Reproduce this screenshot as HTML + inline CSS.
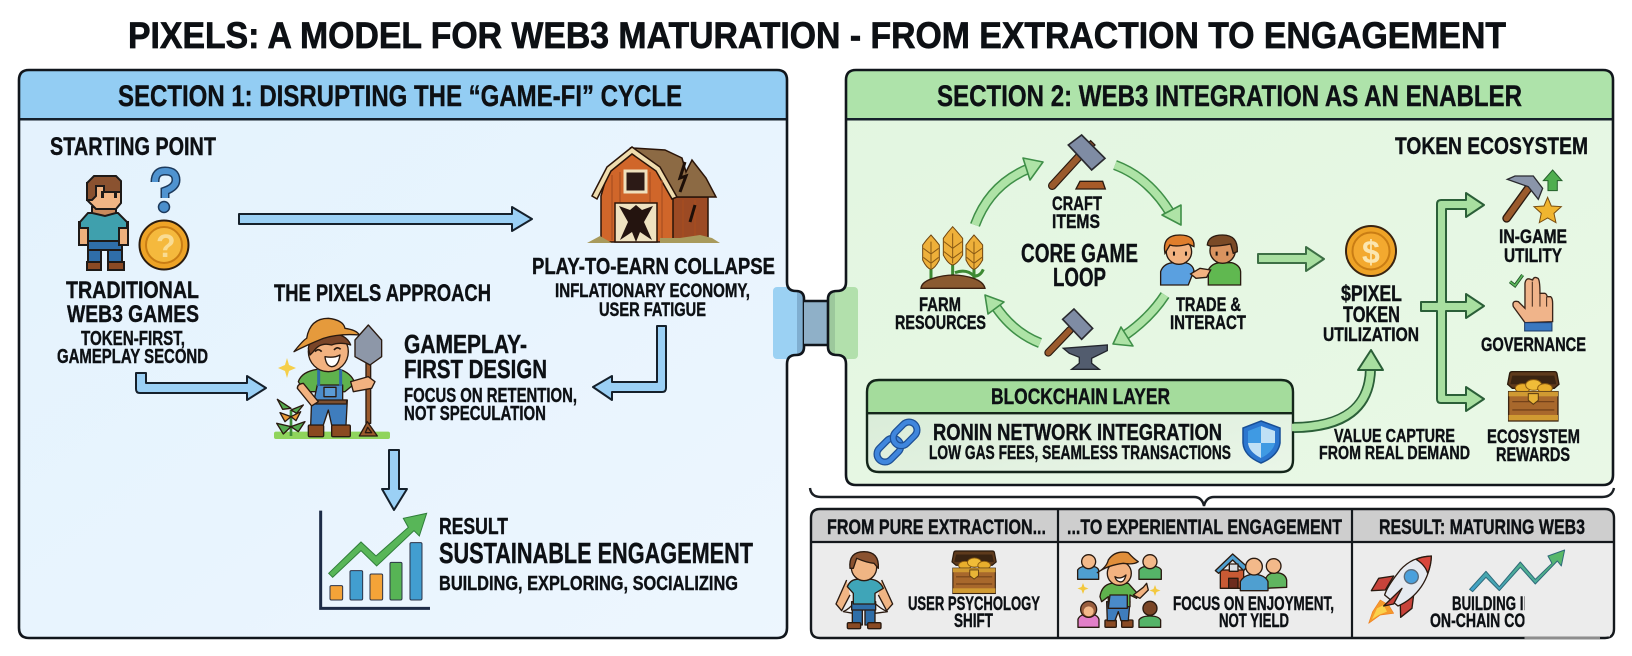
<!DOCTYPE html>
<html><head><meta charset="utf-8"><style>
html,body{margin:0;padding:0;background:#fff;width:1632px;height:656px;overflow:hidden}
svg{display:block}
text{font-family:"Liberation Sans",sans-serif;font-weight:700;fill:#0d1014;stroke:#0d1014;stroke-width:.4px;text-anchor:start}
</style></head><body>
<svg width="1632" height="656" viewBox="0 0 1632 656" xmlns="http://www.w3.org/2000/svg">
<defs>
<clipPath id="p1"><path d="M29,70H777Q787,70 787,80V282Q787,291 796,291Q804,291 804,299V347Q804,355 796,355Q787,355 787,364V628Q787,638 777,638H29Q19,638 19,628V80Q19,70 29,70Z"/></clipPath>
<clipPath id="p2"><path d="M856,70H1603Q1613,70 1613,80V475Q1613,485 1603,485H856Q846,485 846,475V364Q846,355 837,355Q828,355 828,347V299Q828,291 837,291Q846,291 846,282V80Q846,70 856,70Z"/></clipPath>
<linearGradient id="b1" x1="0" y1="0" x2="1" y2="1"><stop offset="0" stop-color="#e3f2fd"/><stop offset="1" stop-color="#edf6fe"/></linearGradient>
<linearGradient id="g1" x1="0" y1="0" x2="1" y2="1"><stop offset="0" stop-color="#e2f6e0"/><stop offset="1" stop-color="#e9f8e6"/></linearGradient>
<linearGradient id="g2" x1="0" y1="0" x2="1" y2="1"><stop offset="0" stop-color="#d6ead5"/><stop offset="1" stop-color="#eaf6e8"/></linearGradient>
<linearGradient id="zig" x1="0" y1="1" x2="1" y2="0"><stop offset="0" stop-color="#3f9fd0"/><stop offset="1" stop-color="#5cbb5c"/></linearGradient>
<g id="chest">
 <path d="M0,38L6,6Q7,0 14,0H140Q147,0 148,6L154,38L140,50H14Z" fill="#5e3a1c" stroke="#2a1a0c" stroke-width="4"/>
 <path d="M14,12H140L146,38H8Z" fill="#3a2412"/>
 <ellipse cx="45" cy="50" rx="22" ry="14" fill="#e8ae2c" stroke="#8a5a10" stroke-width="3"/>
 <ellipse cx="78" cy="40" rx="24" ry="16" fill="#f0bc38" stroke="#8a5a10" stroke-width="3"/>
 <ellipse cx="112" cy="50" rx="22" ry="14" fill="#e8ae2c" stroke="#8a5a10" stroke-width="3"/>
 <rect x="3" y="60" width="148" height="88" fill="#a8682c" stroke="#3a2412" stroke-width="4"/>
 <rect x="3" y="60" width="148" height="14" fill="#d09a32"/>
 <path d="M14,90H140M14,115H140" stroke="#74421a" stroke-width="4"/>
 <rect x="3" y="130" width="148" height="16" fill="#d09a32"/>
 <path d="M62,66H92V86L77,98L62,86Z" fill="#e8b436" stroke="#5a3a10" stroke-width="3"/>
</g>
</defs>
<rect width="1632" height="656" fill="#fff"/>

<text x="128" y="48" font-size="37.5" textLength="1378" lengthAdjust="spacingAndGlyphs" style="stroke-width:.7px">PIXELS: A MODEL FOR WEB3 MATURATION - FROM EXTRACTION TO ENGAGEMENT</text>

<!-- PANEL 1 -->
<g clip-path="url(#p1)">
 <rect x="15" y="65" width="795" height="580" fill="url(#b1)"/>
 <rect x="15" y="65" width="795" height="54" fill="#93cdf3"/>
 <rect x="773" y="287" width="30" height="72" rx="4" fill="#9bd1f3"/>
 <rect x="797" y="287" width="9" height="72" fill="#7faed0"/>
</g>
<rect x="19" y="118" width="768" height="2.5" fill="#15202b"/>
<path d="M29,70H777Q787,70 787,80V282Q787,291 796,291Q804,291 804,299V347Q804,355 796,355Q787,355 787,364V628Q787,638 777,638H29Q19,638 19,628V80Q19,70 29,70Z" fill="none" stroke="#11161c" stroke-width="2.6"/>

<!-- connector -->
<rect x="804" y="301" width="24" height="44" fill="#8fb0c8"/>
<path d="M804,301H828M804,345H828" stroke="#11161c" stroke-width="2.4"/>

<!-- PANEL 2 -->
<g clip-path="url(#p2)">
 <rect x="820" y="65" width="800" height="425" fill="url(#g1)"/>
 <rect x="820" y="65" width="800" height="54" fill="#aee3aa"/>
 <rect x="830" y="287" width="28" height="72" rx="4" fill="#b2e0ac"/>
 <rect x="826" y="287" width="9" height="72" fill="#9cc89c"/>
</g>
<rect x="846" y="118" width="767" height="2.5" fill="#15202b"/>
<path d="M856,70H1603Q1613,70 1613,80V475Q1613,485 1603,485H856Q846,485 846,475V364Q846,355 837,355Q828,355 828,347V299Q828,291 837,291Q846,291 846,282V80Q846,70 856,70Z" fill="none" stroke="#11161c" stroke-width="2.6"/>

<text x="118" y="106" font-size="30" textLength="564" lengthAdjust="spacingAndGlyphs">SECTION 1: DISRUPTING THE “GAME-FI” CYCLE</text>
<text x="937" y="106" font-size="30" textLength="585" lengthAdjust="spacingAndGlyphs">SECTION 2: WEB3 INTEGRATION AS AN ENABLER</text>

<!-- Section 1 text -->
<text x="50" y="155" font-size="25" textLength="166" lengthAdjust="spacingAndGlyphs">STARTING POINT</text>
<text x="66" y="298" font-size="24" textLength="133" lengthAdjust="spacingAndGlyphs">TRADITIONAL</text>
<text x="67" y="322" font-size="24" textLength="132" lengthAdjust="spacingAndGlyphs">WEB3 GAMES</text>
<text x="81" y="345" font-size="20" textLength="104" lengthAdjust="spacingAndGlyphs">TOKEN-FIRST,</text>
<text x="57" y="363" font-size="20" textLength="151" lengthAdjust="spacingAndGlyphs">GAMEPLAY SECOND</text>
<text x="274" y="301" font-size="24.5" textLength="217" lengthAdjust="spacingAndGlyphs">THE PIXELS APPROACH</text>
<text x="532" y="274" font-size="23" textLength="243" lengthAdjust="spacingAndGlyphs">PLAY-TO-EARN COLLAPSE</text>
<text x="555" y="297" font-size="19" textLength="195" lengthAdjust="spacingAndGlyphs">INFLATIONARY ECONOMY,</text>
<text x="599" y="316" font-size="19" textLength="107" lengthAdjust="spacingAndGlyphs">USER FATIGUE</text>
<text x="404" y="353" font-size="26" textLength="123" lengthAdjust="spacingAndGlyphs">GAMEPLAY-</text>
<text x="404" y="378" font-size="26" textLength="143" lengthAdjust="spacingAndGlyphs">FIRST DESIGN</text>
<text x="404" y="402" font-size="20" textLength="173" lengthAdjust="spacingAndGlyphs">FOCUS ON RETENTION,</text>
<text x="404" y="420" font-size="20" textLength="142" lengthAdjust="spacingAndGlyphs">NOT SPECULATION</text>
<text x="439" y="534" font-size="23" textLength="69" lengthAdjust="spacingAndGlyphs">RESULT</text>
<text x="439" y="563" font-size="29" textLength="314" lengthAdjust="spacingAndGlyphs">SUSTAINABLE ENGAGEMENT</text>
<text x="439" y="590" font-size="20" textLength="299" lengthAdjust="spacingAndGlyphs">BUILDING, EXPLORING, SOCIALIZING</text>

<!-- Section 1 arrows -->
<g fill="#9bd0f5" stroke="#15202b" stroke-width="2" stroke-linejoin="round">
 <path d="M239,214H512V207L532,219L512,231V224H239Z"/>
 <path d="M136,373H146V383H247V376L266,388L247,400V393H140Q136,393 136,389Z"/>
 <path d="M657,326H666V388Q666,392 662,392H612V400L593,387L612,376V382H657Z"/>
 <path d="M389,450H399V489H407L394,510L382,489H389Z"/>
</g>

<!-- starting point icons -->
<g stroke="#1e1a18" stroke-width="2">
 <rect x="88" y="248" width="13" height="16" fill="#2f6ea8"/><rect x="108" y="248" width="14" height="16" fill="#2f6ea8"/>
 <rect x="88" y="240" width="34" height="10" fill="#2f6ea8"/>
 <rect x="87" y="262" width="14" height="8" fill="#8a4a24"/><rect x="108" y="262" width="16" height="8" fill="#8a4a24"/>
 <rect x="79" y="222" width="9" height="23" fill="#eeb07c"/><rect x="119" y="222" width="9" height="23" fill="#eeb07c"/>
 <path d="M88,213H118L127,222V228H119V241H88V228H80V222Z" fill="#3fa0ad"/>
 <path d="M92,207H116V213L105,216L92,213Z" fill="#c98a5c"/>
 <path d="M87,183H121V203L116,209H96L87,200Z" fill="#f0b584"/>
 <path d="M87,200V183L94,176H116L121,181V192H104V186H96V196L92,200Z" fill="#8a5230"/>
</g>
<rect x="101" y="191" width="3" height="7" fill="#1e1a18"/><rect x="114" y="191" width="3" height="7" fill="#1e1a18"/>
<path d="M155,182Q155,171 165,171Q176,171 176,180Q176,187 165,191V198" fill="none" stroke="#1d3a5c" stroke-width="9"/>
<circle cx="164" cy="207" r="5.5" fill="#4b8fcc" stroke="#1d3a5c" stroke-width="1.5"/>
<path d="M155,182Q155,171 165,171Q176,171 176,180Q176,187 165,191V198" fill="none" stroke="#4f93d0" stroke-width="6"/>
<circle cx="164" cy="245" r="24.5" fill="#eea326" stroke="#2a1c10" stroke-width="2"/>
<circle cx="164" cy="245" r="18" fill="#f5b93d" stroke="#c97d14" stroke-width="2"/>
<text x="156" y="257" font-size="32" style="fill:#f9dc93;stroke:none">?</text>

<!-- barn -->
<g stroke="#2a1408" stroke-width="1.5">
 <rect x="672" y="197" width="36" height="45" fill="#9c4a24"/>
 <path d="M632,148L665,150L682,158L686,172L692,160L706,178L716,197H676L659,167Z" fill="#8c6a44"/>
 <path d="M601,196L609,168L632,151L656,168L673,196V242H601Z" fill="#d0662a"/>
 <path d="M592,196L607,167L632,147L660,167L677,197L672,199L656,171L632,154L611,171L597,199Z" fill="#efdcae"/>
 <rect x="625" y="171" width="21" height="21" fill="#2c1a16" stroke="#efe0bc" stroke-width="3"/>
 <rect x="615" y="203" width="42" height="39" fill="#efe2c0"/>
 <path d="M619,206L630,210L636,205L642,210L653,206L644,222L652,240L640,232L636,242L632,232L620,240L628,222Z" fill="#24140f" stroke="none"/>
</g>
<path d="M612,175V240M620,172V202M650,172V202M662,180V240M683,200V240M695,200V240" stroke="#a84e20" stroke-width="1.2"/>
<path d="M685,162L680,178L686,176L680,192M695,205L690,222" fill="none" stroke="#1d0f08" stroke-width="3"/>
<path d="M587,243H720L712,238L700,235L680,238H660V243ZM587,243L600,236L612,243Z" fill="#a89a5c"/>

<!-- farmer -->
<g transform="translate(260 310) scale(.3333)" stroke="#2a1a10" stroke-width="4" stroke-linejoin="round">
 <rect x="42" y="365" width="348" height="22" rx="6" fill="#8fd45c" stroke="none"/>
 <path d="M93,378V300" stroke="#3e8a3a" stroke-width="8" fill="none"/>
 <path d="M93,350L50,340L70,372ZM93,350L135,335L115,365Z" fill="#54a94e"/>
 <path d="M93,320L60,308L75,335ZM93,320L122,305L108,332Z" fill="#e99a38"/>
 <path d="M93,295L52,268L68,298ZM93,300L130,285L110,310Z" fill="#54a94e"/>
 <rect x="318" y="160" width="14" height="180" fill="#9a5a2c"/>
 <path d="M298,378L322,335L352,378ZM316,368L323,352L335,368Z" fill="#9a5a2c"/>
 <path d="M285,140V90L325,45L365,90V140L330,165Z" fill="#8d97a8"/>
 <rect x="145" y="345" width="46" height="35" rx="4" fill="#8a4a20"/><rect x="215" y="345" width="56" height="35" rx="4" fill="#8a4a20"/>
 <path d="M155,270H262L258,345H215L205,300L190,345H152Z" fill="#3f7dbd"/>
 <path d="M115,215Q125,185 172,178L240,178Q275,190 285,220L255,245H150L130,240Z" fill="#5fb24d"/>
 <path d="M172,225H248V280H160Z" fill="#4a8bc9"/>
 <path d="M176,178V228M242,178V228" stroke-width="9" stroke="#2e6ca8"/>
 <rect x="192" y="232" width="36" height="28" fill="#5b9bd5"/>
 <rect x="158" y="270" width="102" height="12" fill="#7a4f30"/>
 <path d="M112,235Q112,222 130,220L175,275L155,288Z" fill="#f2b280"/>
 <path d="M272,215L325,200L345,215L335,235L280,245Z" fill="#f2b280"/>
 <circle cx="205" cy="125" r="60" fill="#f2b280"/>
 <path d="M145,115Q150,70 210,70Q260,72 272,105Q240,95 215,105Q180,95 160,125L150,135Z" fill="#7a4528"/>
 <path d="M102,125Q130,90 140,85Q150,25 205,25Q250,30 255,55Q290,60 298,75Q240,70 190,85Q140,105 102,125Z" fill="#e59a3c"/>
 <path d="M195,140Q222,145 240,135Q235,170 215,170Q198,168 195,140Z" fill="#fff"/>
 <path d="M165,125Q175,113 185,125M222,120Q232,108 242,118" fill="none" stroke-width="5"/>
</g>
<path d="M287,358L289,365L296,368L289,371L287,378L285,371L278,368L285,365Z" fill="#f5cf4a"/>

<!-- chart -->
<g transform="translate(290 420) scale(.3333)">
 <path d="M92,272V565H420" fill="none" stroke="#1d2b47" stroke-width="9"/>
 <g stroke="#2c3348" stroke-width="3">
  <rect x="120" y="497" width="38" height="43" rx="4" fill="#f4a338"/>
  <rect x="180" y="452" width="38" height="88" rx="4" fill="#429ed0"/>
  <rect x="240" y="462" width="38" height="78" rx="4" fill="#f4a338"/>
  <rect x="300" y="427" width="36" height="113" rx="4" fill="#57b455"/>
  <rect x="360" y="368" width="36" height="172" rx="4" fill="#429ed0"/>
 </g>
 <path d="M116,460L213,366L258,408L355,322L340,295L410,280L388,348L372,332L260,438L213,392L128,472Z" fill="#58b658" stroke="#2f7d3a" stroke-width="3"/>
</g>

<!-- CORE LOOP text -->
<text x="1052" y="210" font-size="19" textLength="50" lengthAdjust="spacingAndGlyphs">CRAFT</text>
<text x="1052" y="228" font-size="19" textLength="48" lengthAdjust="spacingAndGlyphs">ITEMS</text>
<text x="1021" y="262" font-size="26" textLength="117" lengthAdjust="spacingAndGlyphs">CORE GAME</text>
<text x="1053" y="286" font-size="26" textLength="53" lengthAdjust="spacingAndGlyphs">LOOP</text>
<text x="919" y="311" font-size="19" textLength="42" lengthAdjust="spacingAndGlyphs">FARM</text>
<text x="895" y="329" font-size="19" textLength="91" lengthAdjust="spacingAndGlyphs">RESOURCES</text>
<text x="1176" y="311" font-size="19" textLength="65" lengthAdjust="spacingAndGlyphs">TRADE &amp;</text>
<text x="1170" y="329" font-size="19" textLength="76" lengthAdjust="spacingAndGlyphs">INTERACT</text>

<!-- loop arrows -->
<g fill="none" stroke-linecap="butt">
 <path d="M975,225Q990,184 1030,168" stroke="#3f8f48" stroke-width="10.5"/><path d="M975,225Q990,184 1030,168" stroke="#aee3a6" stroke-width="7.5"/>
 <path d="M1115,165Q1150,178 1172,216" stroke="#3f8f48" stroke-width="10.5"/><path d="M1115,165Q1150,178 1172,216" stroke="#aee3a6" stroke-width="7.5"/>
 <path d="M1165,295Q1150,318 1124,336" stroke="#3f8f48" stroke-width="10.5"/><path d="M1165,295Q1150,318 1124,336" stroke="#aee3a6" stroke-width="7.5"/>
 <path d="M1040,343Q1012,332 994,304" stroke="#3f8f48" stroke-width="10.5"/><path d="M1040,343Q1012,332 994,304" stroke="#aee3a6" stroke-width="7.5"/>
</g>
<g fill="#aee3a6" stroke="#3f8f48" stroke-width="1.6" stroke-linejoin="round">
 <path d="M1043,162L1023,158L1030,180Z"/>
 <path d="M1181,225L1181,205L1162,215Z"/>
 <path d="M1113,344L1121,327L1133,346Z"/>
 <path d="M985,295L1004,302L988,314Z"/>
</g>

<!-- loop icons -->
<g transform="translate(820 120) scale(.3333)">
 <path d="M697,197L775,112" stroke="#2a1a10" stroke-width="26" stroke-linecap="round"/>
 <path d="M697,197L775,112" stroke="#9a5a2c" stroke-width="19" stroke-linecap="round"/>
 <path d="M812,62L825,75L812,88L800,74Z" fill="#9a5a2c" stroke="#2a1a10" stroke-width="4"/>
 <path d="M745,75L785,45L855,115L815,150Z" fill="#7f8ca4" stroke="#2a2a30" stroke-width="5"/>
 <path d="M768,207H856L848,184H780Z" fill="#a85a28" stroke="#2a1a10" stroke-width="4"/>
 <path d="M685,698L750,630" stroke="#2a1a10" stroke-width="24" stroke-linecap="round"/>
 <path d="M685,698L750,630" stroke="#9a5a2c" stroke-width="17" stroke-linecap="round"/>
 <path d="M728,598L762,567L818,625L785,658Z" fill="#7f8ca4" stroke="#2a2a30" stroke-width="5"/>
 <path d="M730,685L862,675V692L815,715V730L838,748H755L778,730V712L748,700Z" fill="#525c6e" stroke="#23262e" stroke-width="4"/>

 <!-- wheat -->
 <g stroke="#3d8a33" stroke-width="9" fill="none"><path d="M333,480V440M398,480V420M462,480V440M405,458Q440,445 462,468Q480,470 490,448"/></g>
 <g fill="#eeb03a" stroke="#6f4510" stroke-width="3">
  <path d="M333,345Q345,358 358,375V420Q345,445 333,448Q320,445 308,420V375Q320,358 333,345Z"/>
  <path d="M398,320Q412,335 428,355V405Q412,432 398,435Q384,432 370,405V355Q384,335 398,320Z"/>
  <path d="M462,345Q474,358 488,375V420Q474,445 462,448Q450,445 438,420V375Q450,358 462,345Z"/>
 </g>
 <path d="M310,385L333,402L356,385M310,412L333,430L356,412M372,365L398,385L426,365M372,395L398,415L426,395M440,385L462,402L486,385M440,412L462,430L486,412M333,365V445M398,340V430M462,365V445" fill="none" stroke="#8a5a14" stroke-width="3"/>
 <path d="M303,505Q305,485 340,475Q400,455 460,475Q490,485 495,505Z" fill="#8a5a30" stroke="#3a2010" stroke-width="4"/>

 <!-- people -->
 <g stroke="#2a1a10" stroke-width="4">
  <path d="M1022,495V455Q1030,430 1060,428H1095Q1118,432 1122,452L1105,495Z" fill="#5aa0e0"/>
  <circle cx="1077" cy="395" r="38" fill="#f2b280"/>
  <path d="M1035,400Q1025,345 1080,345Q1125,345 1122,380L1105,372Q1070,382 1050,375Z" fill="#e07e2c"/>
  <path d="M1165,495V450Q1175,430 1200,428H1235Q1260,435 1262,455V495Z" fill="#60b850"/>
  <circle cx="1208" cy="392" r="38" fill="#d9935f"/>
  <path d="M1162,375Q1165,345 1208,345Q1255,345 1252,395L1240,400L1232,372Q1190,380 1170,378Z" fill="#7a4a26"/>
  <path d="M1112,462L1140,445L1172,450L1160,472L1128,475Z" fill="#f2b280"/>
 </g>
 <path d="M1062,395v12M1098,395v12M1190,395v12M1222,395v12" stroke="#1a1410" stroke-width="6"/>
</g>

<!-- Blockchain layer -->
<rect x="867" y="380" width="426" height="92" rx="12" fill="url(#g2)"/>
<path d="M867,413V392Q867,380 879,380H1281Q1293,380 1293,392V413Z" fill="#a4dc9c"/>
<path d="M879,380H1281Q1293,380 1293,392V460Q1293,472 1281,472H879Q867,472 867,460V392Q867,380 879,380Z" fill="none" stroke="#14261a" stroke-width="2.4"/>
<rect x="867" y="412" width="426" height="2.4" fill="#14261a"/>
<text x="991" y="404" font-size="22" textLength="179" lengthAdjust="spacingAndGlyphs">BLOCKCHAIN LAYER</text>
<text x="933" y="440" font-size="23.5" textLength="289" lengthAdjust="spacingAndGlyphs">RONIN NETWORK INTEGRATION</text>
<text x="929" y="459" font-size="19" textLength="302" lengthAdjust="spacingAndGlyphs">LOW GAS FEES, SEAMLESS TRANSACTIONS</text>

<!-- chain -->
<g fill="none" transform="rotate(-45 897 442)">
 <rect x="872" y="434" width="27" height="16" rx="8" stroke="#1d4f94" stroke-width="7"/>
 <rect x="872" y="434" width="27" height="16" rx="8" stroke="#3f86dd" stroke-width="4.5"/>
 <rect x="895" y="434" width="27" height="16" rx="8" stroke="#1d4f94" stroke-width="7"/>
 <rect x="895" y="434" width="27" height="16" rx="8" stroke="#3f86dd" stroke-width="4.5"/>
</g>
<!-- shield -->
<path d="M1261,421L1280,428V443Q1278,456 1261,463Q1244,456 1243,443V428Z" fill="#2b76cf" stroke="#184e96" stroke-width="1.5"/>
<path d="M1261,426L1275,431V443H1261ZM1261,443V458Q1249,452 1248,443Z" fill="#bfe0f5"/>
<path d="M1261,426V443H1248V431ZM1261,443H1275Q1273,452 1261,458Z" fill="#3f9ae3"/>

<!-- curved value arrow -->
<path d="M1294,427.5Q1370,427 1370.5,368" fill="none" stroke="#2b5f38" stroke-width="11"/>
<path d="M1292,427.5Q1370,427 1370.5,368" fill="none" stroke="#a8dfa0" stroke-width="7.5"/>
<path d="M1371,350L1383,370H1358Z" fill="#a8dfa0" stroke="#2b5f38" stroke-width="2" stroke-linejoin="round"/>

<!-- token arrows -->
<path d="M1258,254H1306V247L1324,259L1306,271V263H1258Z" fill="#a8dfa0" stroke="#3d6f45" stroke-width="2" stroke-linejoin="round"/>
<path d="M1421,302H1437V204Q1437,200 1441,200H1466V193L1484,205L1466,217V209H1446V302H1466V294L1484,306L1466,318V311H1446V395H1466V387L1484,399L1466,411V403H1441Q1437,403 1437,399V311H1421Z" fill="#a8dfa0" stroke="#2b5f38" stroke-width="2" stroke-linejoin="round"/>

<!-- token text -->
<text x="1395" y="154" font-size="24.5" textLength="193" lengthAdjust="spacingAndGlyphs">TOKEN ECOSYSTEM</text>
<text x="1341" y="301" font-size="22" textLength="61" lengthAdjust="spacingAndGlyphs">$PIXEL</text>
<text x="1343" y="322" font-size="22" textLength="57" lengthAdjust="spacingAndGlyphs">TOKEN</text>
<text x="1323" y="341" font-size="19.5" textLength="96" lengthAdjust="spacingAndGlyphs">UTILIZATION</text>
<text x="1499" y="243" font-size="19" textLength="68" lengthAdjust="spacingAndGlyphs">IN-GAME</text>
<text x="1504" y="262" font-size="19" textLength="58" lengthAdjust="spacingAndGlyphs">UTILITY</text>
<text x="1481" y="351" font-size="19" textLength="105" lengthAdjust="spacingAndGlyphs">GOVERNANCE</text>
<text x="1487" y="443" font-size="19.5" textLength="93" lengthAdjust="spacingAndGlyphs">ECOSYSTEM</text>
<text x="1496" y="461" font-size="19.5" textLength="74" lengthAdjust="spacingAndGlyphs">REWARDS</text>
<text x="1334" y="442" font-size="18.5" textLength="121" lengthAdjust="spacingAndGlyphs">VALUE CAPTURE</text>
<text x="1319" y="459" font-size="18.5" textLength="151" lengthAdjust="spacingAndGlyphs">FROM REAL DEMAND</text>

<!-- $ coin -->
<circle cx="1371" cy="251" r="25" fill="#eea326" stroke="#3a2410" stroke-width="2"/>
<circle cx="1371" cy="251" r="18.5" fill="#f3a92f" stroke="#c97d14" stroke-width="2"/>
<text x="1362" y="263" font-size="32" style="fill:#fbe6b0;stroke:none">$</text>

<g transform="translate(1200 120) scale(.3333)">
 <!-- hammer -->
 <path d="M920,295L985,205" stroke="#2a1a10" stroke-width="26" stroke-linecap="round"/>
 <path d="M920,295L985,205" stroke="#9a5a2c" stroke-width="18" stroke-linecap="round"/>
 <path d="M922,178L945,168H1000L1028,205L1015,238L985,200L950,188Z" fill="#8a95aa" stroke="#2a2a30" stroke-width="4"/>
 <path d="M1058,150L1086,182H1072V212H1044V182H1030Z" fill="#4fae4f" stroke="#25602c" stroke-width="3"/>
 <path d="M1043,232L1054,258L1084,260L1062,280L1068,308L1043,294L1018,308L1024,280L1002,260L1032,258Z" fill="#f0b52f" stroke="#7a4e10" stroke-width="3"/>
 <!-- hand -->
 <path d="M975,608L940,560Q935,540 955,545L975,565V490Q978,472 992,478L998,480Q1002,468 1014,475Q1020,480 1020,520H1035Q1040,522 1042,530H1052Q1058,535 1058,550V605Z" fill="#f0b48a" stroke="#3a2418" stroke-width="4"/>
 <path d="M997,485V560M1020,520V560M1040,530V560" stroke="#3a2418" stroke-width="3"/>
 <rect x="974" y="608" width="82" height="25" fill="#3a78c0" stroke="#1c3a66" stroke-width="3"/>
 <path d="M930,485L945,497L968,465" fill="none" stroke="#1f4f25" stroke-width="10"/>
 <path d="M930,485L945,497L968,465" fill="none" stroke="#5cb85c" stroke-width="5"/>
 <use href="#chest" x="923" y="755"/>
</g>

<!-- brace -->
<path d="M810,488Q811,497 821,497H1194Q1202,497 1204,506Q1206,497 1214,497H1602Q1612,497 1614,488" fill="none" stroke="#1a1f24" stroke-width="2.4"/>

<!-- table -->
<rect x="811" y="509" width="803" height="129" rx="9" fill="#ececec"/>
<path d="M811,542V518Q811,509 820,509H1605Q1614,509 1614,518V542Z" fill="#cecece"/>
<path d="M820,509H1605Q1614,509 1614,518V629Q1614,638 1605,638H820Q811,638 811,629V518Q811,509 820,509Z" fill="none" stroke="#14181c" stroke-width="2.4"/>
<path d="M811,542H1614M1058,509V638M1352,509V638" stroke="#14181c" stroke-width="2.2"/>
<text x="827" y="534" font-size="21.5" textLength="219" lengthAdjust="spacingAndGlyphs">FROM PURE EXTRACTION...</text>
<text x="1067" y="534" font-size="21.5" textLength="275" lengthAdjust="spacingAndGlyphs">...TO EXPERIENTIAL ENGAGEMENT</text>
<text x="1379" y="534" font-size="21.5" textLength="206" lengthAdjust="spacingAndGlyphs">RESULT: MATURING WEB3</text>
<text x="908" y="610" font-size="19.5" textLength="132" lengthAdjust="spacingAndGlyphs">USER PSYCHOLOGY</text>
<text x="954" y="627" font-size="19.5" textLength="39" lengthAdjust="spacingAndGlyphs">SHIFT</text>
<text x="1173" y="610" font-size="19.5" textLength="161" lengthAdjust="spacingAndGlyphs">FOCUS ON ENJOYMENT,</text>
<text x="1219" y="627" font-size="19.5" textLength="70" lengthAdjust="spacingAndGlyphs">NOT YIELD</text>
<text x="1452" y="610" font-size="19.5" textLength="81" lengthAdjust="spacingAndGlyphs">BUILDING IN</text>
<text x="1430" y="627" font-size="19.5" textLength="107" lengthAdjust="spacingAndGlyphs">ON-CHAIN COM</text>
<!-- smudge patch -->
<rect x="1524.5" y="590" width="85.5" height="46.5" fill="#ececec"/>
<path d="M1524.5,638H1600" stroke="#8d8d8d" stroke-width="2.4"/>

<!-- bottom chest -->
<use href="#chest" transform="translate(952 551) scale(.287)"/>

<!-- bottom icons -->
<g transform="translate(800 480) scale(.3333)" stroke="#2a1a10" stroke-width="4" stroke-linejoin="round">
 <!-- sad person -->
 <path d="M140,300L108,372L125,392L150,345M245,300L278,372L260,392L235,345" fill="#f0b584"/>
 <path d="M130,395Q150,385 160,370L160,400ZM262,395Q240,385 225,370L225,400Z" fill="#f6f6f6"/>
 <rect x="157" y="370" width="30" height="65" fill="#2f6ea8"/><rect x="195" y="370" width="30" height="65" fill="#2f6ea8"/>
 <rect x="155" y="365" width="72" height="25" fill="#2f6ea8"/>
 <path d="M142,320Q150,300 170,298H215Q240,302 250,325L225,340V372H160V340Z" fill="#3fa5b8"/>
 <rect x="142" y="428" width="40" height="18" rx="4" fill="#8a4a24"/><rect x="203" y="428" width="40" height="18" rx="4" fill="#8a4a24"/>
 <ellipse cx="192" cy="262" rx="38" ry="40" fill="#f0b584"/>
 <path d="M150,265Q145,215 192,215Q238,215 235,265L222,250Q200,248 170,235L160,265Z" fill="#8a5230"/>
 <!-- engagement people -->
 <path d="M833,298V270Q840,258 866,258Q892,258 896,270V298Z" fill="#4f9fd0"/><circle cx="866" cy="245" r="21" fill="#f3b98a"/>
 <path d="M1017,298V270Q1025,258 1050,258Q1078,258 1084,270V298Z" fill="#55b468"/><circle cx="1050" cy="245" r="21" fill="#f3b98a"/>
 <path d="M834,442V418Q840,402 866,402Q892,402 897,418V442Z" fill="#e27fc8"/><circle cx="866" cy="388" r="24" fill="#9a5e3e"/><circle cx="866" cy="394" r="15" fill="#f3b98a" stroke="none"/>
 <path d="M1017,442V420Q1024,408 1050,408Q1076,408 1082,420V442Z" fill="#55b468"/><circle cx="1050" cy="385" r="21" fill="#7a4526"/>
 <!-- small farmer -->
 <rect x="915" y="420" width="34" height="22" rx="3" fill="#8a4a24"/><rect x="965" y="420" width="34" height="22" rx="3" fill="#8a4a24"/>
 <path d="M920,365H990L985,422H963L955,395L945,422H922Z" fill="#3f7dbd"/>
 <path d="M900,350Q905,315 935,310H985L1012,340L1010,355L990,345V380H925V350L905,365Z" fill="#5fb24d"/>
 <path d="M930,345H982V385H925Z" fill="#4a8bc9"/>
 <path d="M1000,345L1030,322L1040,310L1045,330L1020,355Z" fill="#f2b280"/>
 <circle cx="958" cy="280" r="36" fill="#f2b280"/>
 <path d="M892,278Q920,262 925,240Q945,210 985,218Q1000,235 1015,245Q1000,255 970,250Q925,255 892,278Z" fill="#e08e3a"/>
 <path d="M945,290Q960,300 978,285Q972,310 958,305Q948,303 945,290Z" fill="#fff"/>
</g>
<path d="M1083,583l1.5,4 4,1.5-4,1.5-1.5,4-1.5-4-4-1.5 4-1.5zM1155,585l1.5,4 4,1.5-4,1.5-1.5,4-1.5-4-4-1.5 4-1.5z" fill="#f3c83e"/>

<g transform="translate(1212 480) scale(.3333)" stroke="#2a1a10" stroke-width="4" stroke-linejoin="round">
 <!-- house -->
 <path d="M25,325V270H95V325Z" fill="#c85a34"/>
 <path d="M10,272L62,222L105,260L95,272L62,240L20,280Z" fill="#4f9fd0"/>
 <rect x="52" y="252" width="26" height="22" fill="#d9dde2"/>
 <rect x="50" y="295" width="28" height="30" fill="#6d2c1e"/>
 <!-- people -->
 <path d="M160,325V300Q165,278 190,278Q220,278 224,300V322Z" fill="#60b560"/>
 <circle cx="185" cy="258" r="22" fill="#f3b98a"/>
 <path d="M85,332V305Q95,285 125,282Q160,285 168,305V332Z" fill="#4f9fd0"/>
 <circle cx="126" cy="260" r="25" fill="#f3b98a"/>
 <!-- rocket -->
 <path d="M470,430L482,395L505,360L530,375L545,400L505,405Z" fill="#f59a2c" stroke="#f08020" stroke-width="2"/>
 <path d="M480,418L495,385L515,375L525,395L500,405Z" fill="#fbd24c" stroke="none"/>
 <path d="M545,288L500,295L478,332L520,330Z" fill="#c8433a"/>
 <path d="M605,345L600,385L566,412L565,375Z" fill="#c8433a"/>
 <path d="M658,228Q600,230 565,270Q525,320 518,345L558,378Q600,360 628,320Q655,280 658,228Z" fill="#e6eaf0"/>
 <path d="M658,228Q630,230 612,238Q640,255 647,280Q658,255 658,228Z" fill="#d8473c"/>
 <circle cx="598" cy="290" r="21" fill="#4aa0dc" stroke="#5a6a7a"/>
 <path d="M515,378L570,325L545,372Z" fill="#c8433a"/>
 <!-- zigzag -->
 <path d="M773,328L822,274L862,320L925,246L970,298L1020,250L1008,228L1058,210L1048,258L1036,243L970,312L925,262L862,332L822,292L782,335Z" fill="url(#zig)" stroke="#2e6a7a" stroke-width="3"/>
</g>
</svg>
</body></html>
